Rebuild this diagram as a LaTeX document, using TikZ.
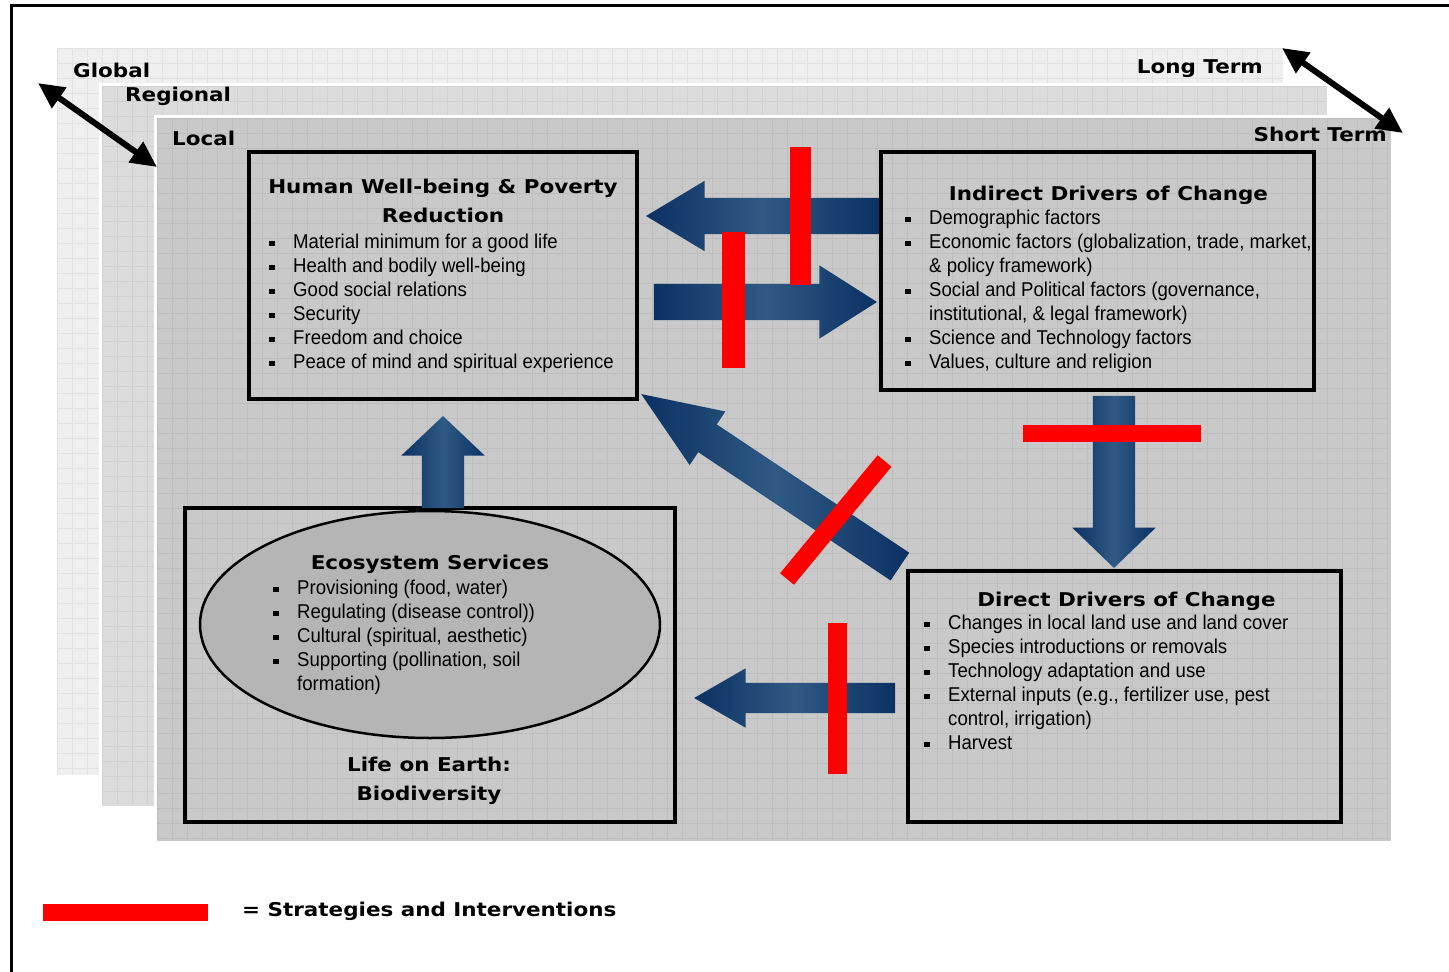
\documentclass[tikz,border=0pt]{standalone}
\usepackage{fontspec}
\usepackage{tikz}
\usetikzlibrary{shapes.geometric,shapes.arrows,arrows.meta}

\newfontfamily\bodyfont[FakeStretch=0.93]{Liberation Sans}
\newfontfamily\headfont[FakeStretch=1.13]{DejaVu Sans}

\definecolor{globalfill}{HTML}{EFEFEF}
\definecolor{globalgrid}{HTML}{E2E2E2}
\definecolor{regionalfill}{HTML}{DCDCDC}
\definecolor{regionalgrid}{HTML}{D0D0D0}
\definecolor{localfill}{HTML}{C9C9C9}
\definecolor{localgrid}{HTML}{BEBEBE}
\definecolor{ecofill}{HTML}{B5B5B5}
\definecolor{arrowdark}{HTML}{0B3163}
\definecolor{arrowlight}{HTML}{2F5A84}

% bullet and hanging indent for the lists
\newcommand\blt{\makebox[24pt][l]{\rule[2.5pt]{5.5pt}{5.5pt}}}
\newcommand\cont{\hspace*{24pt}}

\begin{document}
\begin{tikzpicture}[x=1pt,y=-1pt,
   box/.style={draw,line width=3.5,inner sep=0},
   head/.style={inner sep=0,align=center,font=\headfont\bfseries\fontsize{19}{29}\selectfont},
   list/.style={anchor=north west,inner sep=0,align=left,font=\bodyfont\fontsize{20}{24}\selectfont},
   blockarrow/.style={single arrow,draw=none,inner sep=0,left color=arrowdark,right color=arrowdark,middle color=arrowlight},
   strategy/.style={draw=red,line width=#1},
   scalearrow/.style={line width=6,{Triangle[length=26pt,width=24pt]}-{Triangle[length=26pt,width=24pt]}}]
\useasboundingbox (0,0) rectangle (1449,972);
\fill[white] (0,0) rectangle (1449,972);
\draw[line width=3] (1460,5) -- (11,5) -- (11,985);

% scale layers
\fill[globalfill] (57,48) rectangle (1283,775);
\foreach \x in {57,72,...,1283} \draw[globalgrid,line width=0.6] (\x,48) -- (\x,775);
\foreach \y in {48,63,...,775} \draw[globalgrid,line width=0.6] (57,\y) -- (1283,\y);
\filldraw[fill=regionalfill,draw=white,line width=3] (100,84) rectangle (1328,807);
\foreach \x in {102,117,...,1326} \draw[regionalgrid,line width=0.6] (\x,86) -- (\x,805);
\foreach \y in {86,101,...,805} \draw[regionalgrid,line width=0.6] (102,\y) -- (1326,\y);
\filldraw[fill=localfill,draw=white,line width=3] (155,116) rectangle (1392,842);
\foreach \x in {157,172,...,1390} \draw[localgrid,line width=0.6] (\x,118) -- (\x,840);
\foreach \y in {118,133,...,840} \draw[localgrid,line width=0.6] (157,\y) -- (1390,\y);

\node[head,anchor=north west] (global) at (73,63) {Global};
\node[head,anchor=north west] (regional) at (125,87) {Regional};
\node[head,anchor=north west] (local) at (172,131) {Local};
\node[head,anchor=north east] (longterm) at (1263,59) {Long Term};
\node[head,anchor=north east] (shortterm) at (1387,127) {Short Term};
\coordinate (globalend) at (38,83);
\coordinate (localend) at (157,167);
\coordinate (longend) at (1282,48);
\coordinate (shortend) at (1403,133);
\draw[scalearrow] (globalend) -- (localend);
\draw[scalearrow] (longend) -- (shortend);

% boxes
\node[box,minimum width=388,minimum height=247] (hwb) at (443,275.5) {};
\node[box,minimum width=433,minimum height=238] (ind) at (1097.5,271) {};
\node[box,minimum width=433,minimum height=251] (dir) at (1124.5,696.5) {};
\node[box,minimum width=490,minimum height=314] (life) at (430,665) {};
\node[ellipse,draw,fill=ecofill,line width=2.5,inner sep=0,minimum width=460,minimum height=227] (eco) at (430,624.5) {};

\node[head,anchor=north] (hwbtitle) at (443,179) {Human Well-being \& Poverty\\Reduction};
\node[list] (hwblist) at (269,234) {\blt Material minimum for a good life\\
\blt Health and bodily well-being\\
\blt Good social relations\\
\blt Security\\
\blt Freedom and choice\\
\blt Peace of mind and spiritual experience};

\node[head,anchor=north] (indtitle) at (1108.5,186) {Indirect Drivers of Change};
\node[list] (indlist) at (905,210) {\blt Demographic factors\\
\blt Economic factors (globalization, trade, market,\\
\cont\& policy framework)\\
\blt Social and Political factors (governance,\\
\cont institutional, \& legal framework)\\
\blt Science and Technology factors\\
\blt Values, culture and religion};

\node[head,anchor=north] (dirtitle) at (1126.5,592) {Direct Drivers of Change};
\node[list] (dirlist) at (924,615) {\blt Changes in local land use and land cover\\
\blt Species introductions or removals\\
\blt Technology adaptation and use\\
\blt External inputs (e.g., fertilizer use, pest\\
\cont control, irrigation)\\
\blt Harvest};

\node[head,anchor=north] (ecotitle) at (430,555) {Ecosystem Services};
\node[list] (ecolist) at (273,580) {\blt Provisioning (food, water)\\
\blt Regulating (disease control))\\
\blt Cultural (spiritual, aesthetic)\\
\blt Supporting (pollination, soil\\
\cont formation)};

\node[head,anchor=north] (lifetitle) at (429,757) {Life on Earth:\\Biodiversity};

% links between the boxes
\node[blockarrow,rotate=180,anchor=tail,inner ysep=18,minimum height=233,single arrow head extend=17,single arrow tip angle=62] (indhwb) at ([yshift=55]ind.west) {};
\node[blockarrow,anchor=tail,inner ysep=18,minimum height=223,single arrow head extend=18.5,single arrow tip angle=65] (hwbind) at ([xshift=15,yshift=-26.5]hwb.east) {};
\node[blockarrow,rotate=146.3,anchor=tip,inner ysep=16.5,minimum height=311,single arrow head extend=15.5,single arrow tip angle=44] (dirhwb) at ([xshift=2,yshift=7]hwb.south east) {};
\node[blockarrow,rotate=-90,anchor=tip,inner ysep=21,minimum height=172,single arrow head extend=20.5,single arrow tip angle=92] (inddir) at ([xshift=-10.5,yshift=1]dir.north) {};
\node[blockarrow,rotate=90,anchor=tip,inner ysep=21,minimum height=92,single arrow head extend=20.5,single arrow tip angle=93] (ecohwb) at ([yshift=-15]hwb.south) {};
\node[blockarrow,rotate=180,anchor=tip,inner ysep=15,minimum height=201,single arrow head extend=14.5,single arrow tip angle=60] (dirlife) at ([xshift=17,yshift=-33]life.east) {};

% strategies and interventions
\draw[strategy=21] (800.5,147) -- (800.5,285);
\draw[strategy=23] (733.5,232) -- (733.5,368);
\draw[strategy=18] (787,579) -- (884.5,461);
\draw[strategy=17] (1023,433.5) -- (1201,433.5);
\draw[strategy=19] (837.5,623) -- (837.5,774);

\draw[strategy=17] (43,912.5) -- (208,912.5);
\node[head,anchor=north west] (legend) at (242,902) {= Strategies and Interventions};
\end{tikzpicture}
\end{document}
